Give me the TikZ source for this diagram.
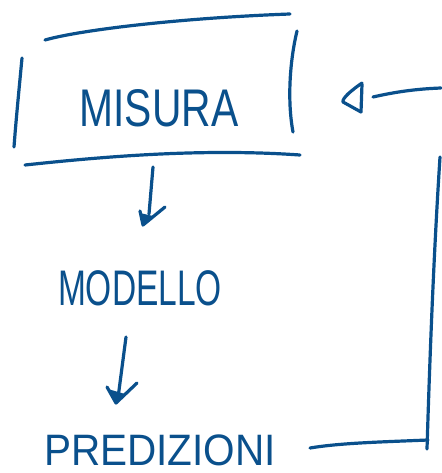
\documentclass[tikz,border=0pt]{standalone}
\usepackage{fontspec}
\setmainfont{Liberation Sans}
\definecolor{ink}{RGB}{10,80,140}
\begin{document}
\begin{tikzpicture}[x=1pt,y=-1pt,
  pen/.style={draw=ink,line width=3.2pt,line cap=round,line join=round},
  lbl/.style={text=ink,inner sep=0pt}]
\useasboundingbox[fill=white] (0,0) rectangle (441,473);
% nodes
\node[lbl,font=\fontsize{53}{53}\selectfont] (mis) at (159,108) {\scalebox{0.77}[1]{MISURA}};
\node[lbl,font=\fontsize{50}{50}\selectfont] (mod) at (140,288) {\scalebox{0.67}[1]{MODELLO}};
\node[lbl,font=\fontsize{44}{44}\selectfont] (pre) at (160,450) {\scalebox{0.92}[1]{PREDIZIONI}};
% sketchy box around MISURA
\draw[pen] (45,40) .. controls (80,30) and (180,18) .. (290,14);
\draw[pen] (22,58) .. controls (19,90) and (16,120) .. (14,147);
\draw[pen] (297,31) .. controls (290,60) and (287,100) .. (293,132);
\draw[pen] (25,165) .. controls (100,157) and (200,148) .. (300,155);
% arrow MISURA -> MODELLO
\coordinate (a1s) at (153,167);
\coordinate (a1e) at (149,214);
\draw[pen] (a1s) -- (a1e);
\draw[pen] (140,211) -- (143,225) -- (165,207);
\fill[ink] (140,213) -- (143,225) -- (153,216) -- cycle;
% arrow MODELLO -> PREDIZIONI
\coordinate (a2s) at (126,337);
\coordinate (a2e) at (118,398);
\draw[pen] (a2s) -- (a2e);
\draw[pen] (107,387) -- (116,403) -- (137,383);
\fill[ink] (108,389) -- (116,403) -- (125,394) -- cycle;
% feedback PREDIZIONI -> MISURA
\coordinate (f0) at (310,448);
\coordinate (f1) at (428,440);
\coordinate (v0) at (427,449);
\coordinate (v1) at (440,157);
\coordinate (t0) at (373,97);
\coordinate (t1) at (441,88);
\draw[pen] (f0) .. controls (340,443) and (380,442) .. (f1);
\draw[pen] (v0) .. controls (430,350) and (434,250) .. (v1);
\draw[pen] (t0) .. controls (395,92) and (415,89) .. (t1);
\draw[pen] (362,83) .. controls (352,90) and (342,98) .. (343,102) -- (361,112);
\draw[pen] (362,84) -- (361,112);
\end{tikzpicture}
\end{document}
